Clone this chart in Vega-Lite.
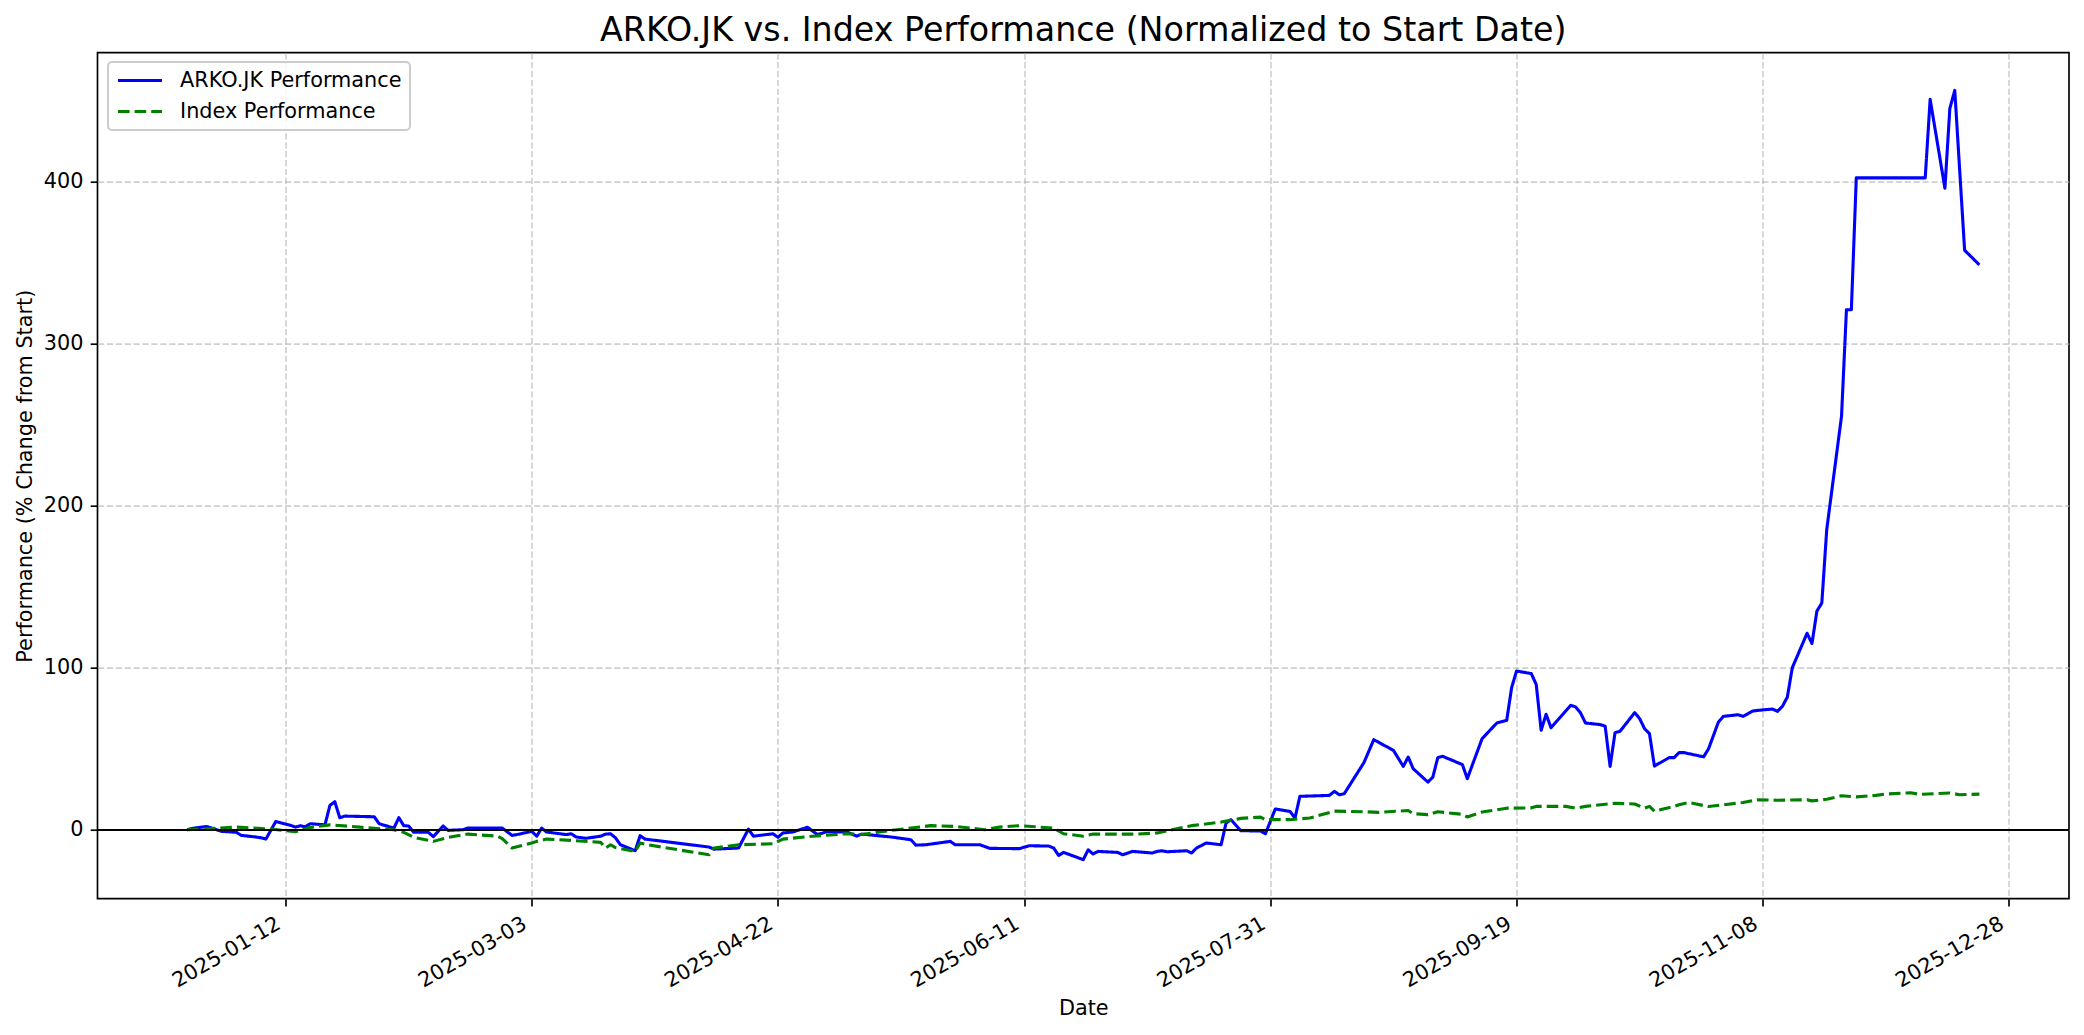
{
  "$schema": "https://vega.github.io/schema/vega-lite/v6.json",
  "autosize": "none",
  "width": 1971.5,
  "height": 846,
  "padding": {"left": 97.5, "top": 52.7, "right": 15, "bottom": 136.3},
  "background": "white",
  "title": {"text": "ARKO.JK vs. Index Performance (Normalized to Start Date)", "fontSize": 33.3, "font": "DejaVu Sans", "fontWeight": "normal", "color": "black", "offset": 4.5, "anchor": "middle"},
  "config": {
    "font": "DejaVu Sans",
    "view": {"stroke": "black", "strokeWidth": 1.67},
    "axis": {
      "domain": false,
      "labelFont": "DejaVu Sans", "labelFontSize": 20.8, "labelColor": "black",
      "titleFont": "DejaVu Sans", "titleFontSize": 20.8, "titleFontWeight": "normal", "titleColor": "black",
      "tickColor": "black", "tickSize": 7.3, "tickWidth": 1.67, "labelPadding": 7.3,
      "grid": true, "gridColor": "#b0b0b0", "gridOpacity": 0.6, "gridWidth": 1.67, "gridDash": [6.2, 2.7],
      "labelFlush": false, "labelOverlap": false, "labelBound": false, "titlePadding": 8
    },
    "legend": {
      "orient": "none", "legendX": 10.5, "legendY": 9.3,
      "labelFont": "DejaVu Sans", "labelFontSize": 20.8, "labelColor": "black", "labelLimit": 0,
      "symbolType": "stroke", "symbolSize": 1936, "symbolStrokeWidth": 3.1,
      "clipHeight": 21, "rowPadding": 9, "padding": 8, "labelOffset": 16,
      "strokeColor": "#cccccc", "strokeWidth": 2, "fillColor": "rgba(255,255,255,0.8)", "cornerRadius": 4
    }
  },
  "data": {"values": [
    {"date": "2024-12-23", "series": "ARKO.JK Performance", "value": 0},
    {"date": "2024-12-24", "series": "ARKO.JK Performance", "value": 0.8},
    {"date": "2024-12-27", "series": "ARKO.JK Performance", "value": 2},
    {"date": "2024-12-30", "series": "ARKO.JK Performance", "value": -1},
    {"date": "2025-01-02", "series": "ARKO.JK Performance", "value": -1.6},
    {"date": "2025-01-03", "series": "ARKO.JK Performance", "value": -3.5},
    {"date": "2025-01-06", "series": "ARKO.JK Performance", "value": -4.5},
    {"date": "2025-01-07", "series": "ARKO.JK Performance", "value": -5},
    {"date": "2025-01-08", "series": "ARKO.JK Performance", "value": -5.8},
    {"date": "2025-01-10", "series": "ARKO.JK Performance", "value": 5},
    {"date": "2025-01-13", "series": "ARKO.JK Performance", "value": 2.7},
    {"date": "2025-01-14", "series": "ARKO.JK Performance", "value": 1.6},
    {"date": "2025-01-15", "series": "ARKO.JK Performance", "value": 2.5},
    {"date": "2025-01-16", "series": "ARKO.JK Performance", "value": 1.8},
    {"date": "2025-01-17", "series": "ARKO.JK Performance", "value": 3.7},
    {"date": "2025-01-20", "series": "ARKO.JK Performance", "value": 3},
    {"date": "2025-01-21", "series": "ARKO.JK Performance", "value": 15},
    {"date": "2025-01-22", "series": "ARKO.JK Performance", "value": 17.3},
    {"date": "2025-01-23", "series": "ARKO.JK Performance", "value": 7.4},
    {"date": "2025-01-24", "series": "ARKO.JK Performance", "value": 8.4},
    {"date": "2025-01-30", "series": "ARKO.JK Performance", "value": 8},
    {"date": "2025-01-31", "series": "ARKO.JK Performance", "value": 3.7},
    {"date": "2025-02-03", "series": "ARKO.JK Performance", "value": 1},
    {"date": "2025-02-04", "series": "ARKO.JK Performance", "value": 7.4},
    {"date": "2025-02-05", "series": "ARKO.JK Performance", "value": 2.5},
    {"date": "2025-02-06", "series": "ARKO.JK Performance", "value": 2.3},
    {"date": "2025-02-07", "series": "ARKO.JK Performance", "value": -1.6},
    {"date": "2025-02-10", "series": "ARKO.JK Performance", "value": -1.6},
    {"date": "2025-02-11", "series": "ARKO.JK Performance", "value": -4.3},
    {"date": "2025-02-13", "series": "ARKO.JK Performance", "value": 2.3},
    {"date": "2025-02-14", "series": "ARKO.JK Performance", "value": -0.4},
    {"date": "2025-02-17", "series": "ARKO.JK Performance", "value": 0},
    {"date": "2025-02-18", "series": "ARKO.JK Performance", "value": 1},
    {"date": "2025-02-25", "series": "ARKO.JK Performance", "value": 1},
    {"date": "2025-02-27", "series": "ARKO.JK Performance", "value": -3.5},
    {"date": "2025-02-28", "series": "ARKO.JK Performance", "value": -3},
    {"date": "2025-03-03", "series": "ARKO.JK Performance", "value": -1},
    {"date": "2025-03-04", "series": "ARKO.JK Performance", "value": -4},
    {"date": "2025-03-05", "series": "ARKO.JK Performance", "value": 1},
    {"date": "2025-03-06", "series": "ARKO.JK Performance", "value": -1.4},
    {"date": "2025-03-10", "series": "ARKO.JK Performance", "value": -3},
    {"date": "2025-03-11", "series": "ARKO.JK Performance", "value": -2.5},
    {"date": "2025-03-12", "series": "ARKO.JK Performance", "value": -4.5},
    {"date": "2025-03-14", "series": "ARKO.JK Performance", "value": -5.3},
    {"date": "2025-03-17", "series": "ARKO.JK Performance", "value": -4},
    {"date": "2025-03-18", "series": "ARKO.JK Performance", "value": -2.7},
    {"date": "2025-03-19", "series": "ARKO.JK Performance", "value": -2.5},
    {"date": "2025-03-20", "series": "ARKO.JK Performance", "value": -5},
    {"date": "2025-03-21", "series": "ARKO.JK Performance", "value": -9.3},
    {"date": "2025-03-24", "series": "ARKO.JK Performance", "value": -13},
    {"date": "2025-03-25", "series": "ARKO.JK Performance", "value": -3.7},
    {"date": "2025-03-26", "series": "ARKO.JK Performance", "value": -5.8},
    {"date": "2025-04-08", "series": "ARKO.JK Performance", "value": -10.7},
    {"date": "2025-04-09", "series": "ARKO.JK Performance", "value": -12},
    {"date": "2025-04-14", "series": "ARKO.JK Performance", "value": -11.3},
    {"date": "2025-04-16", "series": "ARKO.JK Performance", "value": 0.4},
    {"date": "2025-04-17", "series": "ARKO.JK Performance", "value": -4},
    {"date": "2025-04-21", "series": "ARKO.JK Performance", "value": -2.5},
    {"date": "2025-04-22", "series": "ARKO.JK Performance", "value": -4.7},
    {"date": "2025-04-23", "series": "ARKO.JK Performance", "value": -2},
    {"date": "2025-04-25", "series": "ARKO.JK Performance", "value": -1.4},
    {"date": "2025-04-28", "series": "ARKO.JK Performance", "value": 1.5},
    {"date": "2025-04-30", "series": "ARKO.JK Performance", "value": -3},
    {"date": "2025-05-02", "series": "ARKO.JK Performance", "value": -1.2},
    {"date": "2025-05-06", "series": "ARKO.JK Performance", "value": -1.4},
    {"date": "2025-05-08", "series": "ARKO.JK Performance", "value": -4},
    {"date": "2025-05-09", "series": "ARKO.JK Performance", "value": -2.7},
    {"date": "2025-05-15", "series": "ARKO.JK Performance", "value": -4.5},
    {"date": "2025-05-19", "series": "ARKO.JK Performance", "value": -6.2},
    {"date": "2025-05-20", "series": "ARKO.JK Performance", "value": -9.5},
    {"date": "2025-05-22", "series": "ARKO.JK Performance", "value": -9.3},
    {"date": "2025-05-27", "series": "ARKO.JK Performance", "value": -7.2},
    {"date": "2025-05-28", "series": "ARKO.JK Performance", "value": -9.3},
    {"date": "2025-06-02", "series": "ARKO.JK Performance", "value": -9.3},
    {"date": "2025-06-04", "series": "ARKO.JK Performance", "value": -11.5},
    {"date": "2025-06-10", "series": "ARKO.JK Performance", "value": -11.7},
    {"date": "2025-06-12", "series": "ARKO.JK Performance", "value": -9.9},
    {"date": "2025-06-16", "series": "ARKO.JK Performance", "value": -10.1},
    {"date": "2025-06-17", "series": "ARKO.JK Performance", "value": -11.3},
    {"date": "2025-06-18", "series": "ARKO.JK Performance", "value": -15.9},
    {"date": "2025-06-19", "series": "ARKO.JK Performance", "value": -14},
    {"date": "2025-06-23", "series": "ARKO.JK Performance", "value": -18.5},
    {"date": "2025-06-24", "series": "ARKO.JK Performance", "value": -12.4},
    {"date": "2025-06-25", "series": "ARKO.JK Performance", "value": -15},
    {"date": "2025-06-26", "series": "ARKO.JK Performance", "value": -13.4},
    {"date": "2025-06-30", "series": "ARKO.JK Performance", "value": -14},
    {"date": "2025-07-01", "series": "ARKO.JK Performance", "value": -15.5},
    {"date": "2025-07-03", "series": "ARKO.JK Performance", "value": -13.4},
    {"date": "2025-07-07", "series": "ARKO.JK Performance", "value": -14.4},
    {"date": "2025-07-08", "series": "ARKO.JK Performance", "value": -13.4},
    {"date": "2025-07-09", "series": "ARKO.JK Performance", "value": -13},
    {"date": "2025-07-10", "series": "ARKO.JK Performance", "value": -13.6},
    {"date": "2025-07-14", "series": "ARKO.JK Performance", "value": -13},
    {"date": "2025-07-15", "series": "ARKO.JK Performance", "value": -14.4},
    {"date": "2025-07-16", "series": "ARKO.JK Performance", "value": -11.3},
    {"date": "2025-07-18", "series": "ARKO.JK Performance", "value": -8.2},
    {"date": "2025-07-21", "series": "ARKO.JK Performance", "value": -9.3},
    {"date": "2025-07-22", "series": "ARKO.JK Performance", "value": 4.1},
    {"date": "2025-07-23", "series": "ARKO.JK Performance", "value": 6.2},
    {"date": "2025-07-25", "series": "ARKO.JK Performance", "value": -0.6},
    {"date": "2025-07-29", "series": "ARKO.JK Performance", "value": -0.8},
    {"date": "2025-07-30", "series": "ARKO.JK Performance", "value": -2.5},
    {"date": "2025-08-01", "series": "ARKO.JK Performance", "value": 12.8},
    {"date": "2025-08-04", "series": "ARKO.JK Performance", "value": 11.3},
    {"date": "2025-08-05", "series": "ARKO.JK Performance", "value": 7.2},
    {"date": "2025-08-06", "series": "ARKO.JK Performance", "value": 20.6},
    {"date": "2025-08-12", "series": "ARKO.JK Performance", "value": 21.2},
    {"date": "2025-08-13", "series": "ARKO.JK Performance", "value": 23.7},
    {"date": "2025-08-14", "series": "ARKO.JK Performance", "value": 21.6},
    {"date": "2025-08-15", "series": "ARKO.JK Performance", "value": 22.2},
    {"date": "2025-08-19", "series": "ARKO.JK Performance", "value": 41.4},
    {"date": "2025-08-21", "series": "ARKO.JK Performance", "value": 55.6},
    {"date": "2025-08-25", "series": "ARKO.JK Performance", "value": 49},
    {"date": "2025-08-27", "series": "ARKO.JK Performance", "value": 39.1},
    {"date": "2025-08-28", "series": "ARKO.JK Performance", "value": 44.9},
    {"date": "2025-08-29", "series": "ARKO.JK Performance", "value": 37.7},
    {"date": "2025-09-01", "series": "ARKO.JK Performance", "value": 29.4},
    {"date": "2025-09-02", "series": "ARKO.JK Performance", "value": 32.5},
    {"date": "2025-09-03", "series": "ARKO.JK Performance", "value": 44.5},
    {"date": "2025-09-04", "series": "ARKO.JK Performance", "value": 45.3},
    {"date": "2025-09-08", "series": "ARKO.JK Performance", "value": 40.2},
    {"date": "2025-09-09", "series": "ARKO.JK Performance", "value": 31.5},
    {"date": "2025-09-10", "series": "ARKO.JK Performance", "value": 39.8},
    {"date": "2025-09-12", "series": "ARKO.JK Performance", "value": 56.2},
    {"date": "2025-09-15", "series": "ARKO.JK Performance", "value": 65.9},
    {"date": "2025-09-17", "series": "ARKO.JK Performance", "value": 67.5},
    {"date": "2025-09-18", "series": "ARKO.JK Performance", "value": 87.7},
    {"date": "2025-09-19", "series": "ARKO.JK Performance", "value": 98},
    {"date": "2025-09-22", "series": "ARKO.JK Performance", "value": 96.4},
    {"date": "2025-09-23", "series": "ARKO.JK Performance", "value": 89.6},
    {"date": "2025-09-24", "series": "ARKO.JK Performance", "value": 61.4},
    {"date": "2025-09-25", "series": "ARKO.JK Performance", "value": 71.3},
    {"date": "2025-09-26", "series": "ARKO.JK Performance", "value": 63},
    {"date": "2025-09-30", "series": "ARKO.JK Performance", "value": 76.8},
    {"date": "2025-10-01", "series": "ARKO.JK Performance", "value": 75.8},
    {"date": "2025-10-02", "series": "ARKO.JK Performance", "value": 72.1},
    {"date": "2025-10-03", "series": "ARKO.JK Performance", "value": 65.9},
    {"date": "2025-10-06", "series": "ARKO.JK Performance", "value": 64.9},
    {"date": "2025-10-07", "series": "ARKO.JK Performance", "value": 63.9},
    {"date": "2025-10-08", "series": "ARKO.JK Performance", "value": 39.1},
    {"date": "2025-10-09", "series": "ARKO.JK Performance", "value": 59.9},
    {"date": "2025-10-10", "series": "ARKO.JK Performance", "value": 60.7},
    {"date": "2025-10-13", "series": "ARKO.JK Performance", "value": 72.3},
    {"date": "2025-10-14", "series": "ARKO.JK Performance", "value": 68.6},
    {"date": "2025-10-15", "series": "ARKO.JK Performance", "value": 62.4},
    {"date": "2025-10-16", "series": "ARKO.JK Performance", "value": 59.3},
    {"date": "2025-10-17", "series": "ARKO.JK Performance", "value": 39.3},
    {"date": "2025-10-20", "series": "ARKO.JK Performance", "value": 44.5},
    {"date": "2025-10-21", "series": "ARKO.JK Performance", "value": 44.5},
    {"date": "2025-10-22", "series": "ARKO.JK Performance", "value": 47.6},
    {"date": "2025-10-23", "series": "ARKO.JK Performance", "value": 47.6},
    {"date": "2025-10-27", "series": "ARKO.JK Performance", "value": 45},
    {"date": "2025-10-28", "series": "ARKO.JK Performance", "value": 50},
    {"date": "2025-10-30", "series": "ARKO.JK Performance", "value": 66.5},
    {"date": "2025-10-31", "series": "ARKO.JK Performance", "value": 70},
    {"date": "2025-11-03", "series": "ARKO.JK Performance", "value": 71},
    {"date": "2025-11-04", "series": "ARKO.JK Performance", "value": 70},
    {"date": "2025-11-06", "series": "ARKO.JK Performance", "value": 73.3},
    {"date": "2025-11-07", "series": "ARKO.JK Performance", "value": 73.7},
    {"date": "2025-11-10", "series": "ARKO.JK Performance", "value": 74.5},
    {"date": "2025-11-11", "series": "ARKO.JK Performance", "value": 73.1},
    {"date": "2025-11-12", "series": "ARKO.JK Performance", "value": 76.2},
    {"date": "2025-11-13", "series": "ARKO.JK Performance", "value": 81.9},
    {"date": "2025-11-14", "series": "ARKO.JK Performance", "value": 100},
    {"date": "2025-11-17", "series": "ARKO.JK Performance", "value": 121.3},
    {"date": "2025-11-18", "series": "ARKO.JK Performance", "value": 115},
    {"date": "2025-11-19", "series": "ARKO.JK Performance", "value": 135},
    {"date": "2025-11-20", "series": "ARKO.JK Performance", "value": 140},
    {"date": "2025-11-21", "series": "ARKO.JK Performance", "value": 185.4},
    {"date": "2025-11-24", "series": "ARKO.JK Performance", "value": 255.3},
    {"date": "2025-11-25", "series": "ARKO.JK Performance", "value": 321.1},
    {"date": "2025-11-26", "series": "ARKO.JK Performance", "value": 321.1},
    {"date": "2025-11-27", "series": "ARKO.JK Performance", "value": 402.5},
    {"date": "2025-12-11", "series": "ARKO.JK Performance", "value": 402.5},
    {"date": "2025-12-12", "series": "ARKO.JK Performance", "value": 451},
    {"date": "2025-12-15", "series": "ARKO.JK Performance", "value": 396.1},
    {"date": "2025-12-16", "series": "ARKO.JK Performance", "value": 445.4},
    {"date": "2025-12-17", "series": "ARKO.JK Performance", "value": 456.5},
    {"date": "2025-12-19", "series": "ARKO.JK Performance", "value": 357.8},
    {"date": "2025-12-22", "series": "ARKO.JK Performance", "value": 348.8},
    {"date": "2024-12-23", "series": "Index Performance", "value": 0},
    {"date": "2024-12-27", "series": "Index Performance", "value": 0.5},
    {"date": "2025-01-02", "series": "Index Performance", "value": 1.6},
    {"date": "2025-01-09", "series": "Index Performance", "value": 0.4},
    {"date": "2025-01-14", "series": "Index Performance", "value": -1.2},
    {"date": "2025-01-17", "series": "Index Performance", "value": 1.4},
    {"date": "2025-01-21", "series": "Index Performance", "value": 3},
    {"date": "2025-01-27", "series": "Index Performance", "value": 1.6},
    {"date": "2025-02-03", "series": "Index Performance", "value": 0},
    {"date": "2025-02-05", "series": "Index Performance", "value": -1.6},
    {"date": "2025-02-07", "series": "Index Performance", "value": -4.7},
    {"date": "2025-02-11", "series": "Index Performance", "value": -7.2},
    {"date": "2025-02-14", "series": "Index Performance", "value": -4.7},
    {"date": "2025-02-18", "series": "Index Performance", "value": -2.7},
    {"date": "2025-02-24", "series": "Index Performance", "value": -4},
    {"date": "2025-02-25", "series": "Index Performance", "value": -5.5},
    {"date": "2025-02-27", "series": "Index Performance", "value": -11.3},
    {"date": "2025-03-03", "series": "Index Performance", "value": -8.2},
    {"date": "2025-03-04", "series": "Index Performance", "value": -7.2},
    {"date": "2025-03-06", "series": "Index Performance", "value": -5.8},
    {"date": "2025-03-11", "series": "Index Performance", "value": -6.6},
    {"date": "2025-03-17", "series": "Index Performance", "value": -7.8},
    {"date": "2025-03-18", "series": "Index Performance", "value": -11.3},
    {"date": "2025-03-19", "series": "Index Performance", "value": -9.3},
    {"date": "2025-03-20", "series": "Index Performance", "value": -11},
    {"date": "2025-03-24", "series": "Index Performance", "value": -13.4},
    {"date": "2025-03-25", "series": "Index Performance", "value": -8.2},
    {"date": "2025-03-26", "series": "Index Performance", "value": -9},
    {"date": "2025-04-08", "series": "Index Performance", "value": -15.5},
    {"date": "2025-04-09", "series": "Index Performance", "value": -11.3},
    {"date": "2025-04-14", "series": "Index Performance", "value": -9.3},
    {"date": "2025-04-21", "series": "Index Performance", "value": -8.7},
    {"date": "2025-04-23", "series": "Index Performance", "value": -5.8},
    {"date": "2025-04-29", "series": "Index Performance", "value": -4},
    {"date": "2025-05-06", "series": "Index Performance", "value": -2.5},
    {"date": "2025-05-09", "series": "Index Performance", "value": -3},
    {"date": "2025-05-15", "series": "Index Performance", "value": -0.4},
    {"date": "2025-05-19", "series": "Index Performance", "value": 1},
    {"date": "2025-05-23", "series": "Index Performance", "value": 2.5},
    {"date": "2025-05-28", "series": "Index Performance", "value": 2},
    {"date": "2025-06-03", "series": "Index Performance", "value": 0},
    {"date": "2025-06-06", "series": "Index Performance", "value": 1.6},
    {"date": "2025-06-10", "series": "Index Performance", "value": 2.5},
    {"date": "2025-06-17", "series": "Index Performance", "value": 1},
    {"date": "2025-06-19", "series": "Index Performance", "value": -2.5},
    {"date": "2025-06-23", "series": "Index Performance", "value": -4},
    {"date": "2025-06-25", "series": "Index Performance", "value": -2.7},
    {"date": "2025-07-04", "series": "Index Performance", "value": -2.7},
    {"date": "2025-07-08", "series": "Index Performance", "value": -2},
    {"date": "2025-07-11", "series": "Index Performance", "value": 0},
    {"date": "2025-07-15", "series": "Index Performance", "value": 2.5},
    {"date": "2025-07-21", "series": "Index Performance", "value": 4.7},
    {"date": "2025-07-25", "series": "Index Performance", "value": 7},
    {"date": "2025-07-29", "series": "Index Performance", "value": 7.8},
    {"date": "2025-07-30", "series": "Index Performance", "value": 6.2},
    {"date": "2025-08-04", "series": "Index Performance", "value": 6.2},
    {"date": "2025-08-08", "series": "Index Performance", "value": 7.2},
    {"date": "2025-08-13", "series": "Index Performance", "value": 11.5},
    {"date": "2025-08-19", "series": "Index Performance", "value": 11.1},
    {"date": "2025-08-22", "series": "Index Performance", "value": 10.7},
    {"date": "2025-08-28", "series": "Index Performance", "value": 11.9},
    {"date": "2025-08-29", "series": "Index Performance", "value": 9.9},
    {"date": "2025-09-01", "series": "Index Performance", "value": 9.3},
    {"date": "2025-09-03", "series": "Index Performance", "value": 11.1},
    {"date": "2025-09-08", "series": "Index Performance", "value": 9.5},
    {"date": "2025-09-09", "series": "Index Performance", "value": 7.9},
    {"date": "2025-09-12", "series": "Index Performance", "value": 10.9},
    {"date": "2025-09-17", "series": "Index Performance", "value": 13.3},
    {"date": "2025-09-22", "series": "Index Performance", "value": 13.5},
    {"date": "2025-09-23", "series": "Index Performance", "value": 14.4},
    {"date": "2025-09-29", "series": "Index Performance", "value": 14.4},
    {"date": "2025-10-01", "series": "Index Performance", "value": 13.3},
    {"date": "2025-10-03", "series": "Index Performance", "value": 14.4},
    {"date": "2025-10-09", "series": "Index Performance", "value": 16.3},
    {"date": "2025-10-13", "series": "Index Performance", "value": 15.9},
    {"date": "2025-10-15", "series": "Index Performance", "value": 13.3},
    {"date": "2025-10-16", "series": "Index Performance", "value": 14.4},
    {"date": "2025-10-17", "series": "Index Performance", "value": 11.5},
    {"date": "2025-10-21", "series": "Index Performance", "value": 14.4},
    {"date": "2025-10-22", "series": "Index Performance", "value": 15.4},
    {"date": "2025-10-24", "series": "Index Performance", "value": 16.8},
    {"date": "2025-10-28", "series": "Index Performance", "value": 14.3},
    {"date": "2025-11-04", "series": "Index Performance", "value": 16.8},
    {"date": "2025-11-07", "series": "Index Performance", "value": 18.5},
    {"date": "2025-11-11", "series": "Index Performance", "value": 18.2},
    {"date": "2025-11-17", "series": "Index Performance", "value": 18.5},
    {"date": "2025-11-18", "series": "Index Performance", "value": 17.8},
    {"date": "2025-11-21", "series": "Index Performance", "value": 18.8},
    {"date": "2025-11-24", "series": "Index Performance", "value": 21},
    {"date": "2025-11-27", "series": "Index Performance", "value": 20.3},
    {"date": "2025-12-01", "series": "Index Performance", "value": 21.2},
    {"date": "2025-12-03", "series": "Index Performance", "value": 22},
    {"date": "2025-12-08", "series": "Index Performance", "value": 22.8},
    {"date": "2025-12-10", "series": "Index Performance", "value": 21.8},
    {"date": "2025-12-16", "series": "Index Performance", "value": 22.7},
    {"date": "2025-12-18", "series": "Index Performance", "value": 21.6},
    {"date": "2025-12-22", "series": "Index Performance", "value": 22}
  ]},
  "encoding": {
    "x": {
      "field": "date", "type": "temporal",
      "scale": {"type": "utc", "domain": [{"year": 2024, "month": 12, "date": 4, "hours": 19, "minutes": 12, "utc": true}, {"year": 2026, "month": 1, "date": 9, "hours": 4, "minutes": 48, "utc": true}]},
      "axis": {
        "title": "Date",
        "values": [
          {"year": 2025, "month": 1, "date": 12, "utc": true},
          {"year": 2025, "month": 3, "date": 3, "utc": true},
          {"year": 2025, "month": 4, "date": 22, "utc": true},
          {"year": 2025, "month": 6, "date": 11, "utc": true},
          {"year": 2025, "month": 7, "date": 31, "utc": true},
          {"year": 2025, "month": 9, "date": 19, "utc": true},
          {"year": 2025, "month": 11, "date": 8, "utc": true},
          {"year": 2025, "month": 12, "date": 28, "utc": true}
        ],
        "format": "%Y-%m-%d",
        "labelAngle": -30, "labelAlign": "right", "labelBaseline": "top", "labelOffset": -12
      }
    },
    "y": {
      "field": "value", "type": "quantitative",
      "scale": {"domain": [-42.6, 479.8], "nice": false, "zero": false},
      "axis": {"title": "Performance (% Change from Start)", "values": [0, 100, 200, 300, 400]}
    }
  },
  "layer": [
    {
      "mark": {"type": "line", "strokeWidth": 3.1, "strokeJoin": "round"},
      "encoding": {
        "color": {"field": "series", "type": "nominal", "scale": {"domain": ["ARKO.JK Performance", "Index Performance"], "range": ["#0000ff", "#008000"]}, "legend": {"title": null}},
        "strokeDash": {"field": "series", "type": "nominal", "scale": {"domain": ["ARKO.JK Performance", "Index Performance"], "range": [[1, 0], [11.6, 5]]}, "legend": {"title": null}}
      }
    },
    {
      "mark": {"type": "rule", "color": "black", "strokeWidth": 1.3},
      "encoding": {"y": {"datum": 0}, "x": {"value": 0}, "x2": {"value": 1971.5}}
    }
  ]
}
